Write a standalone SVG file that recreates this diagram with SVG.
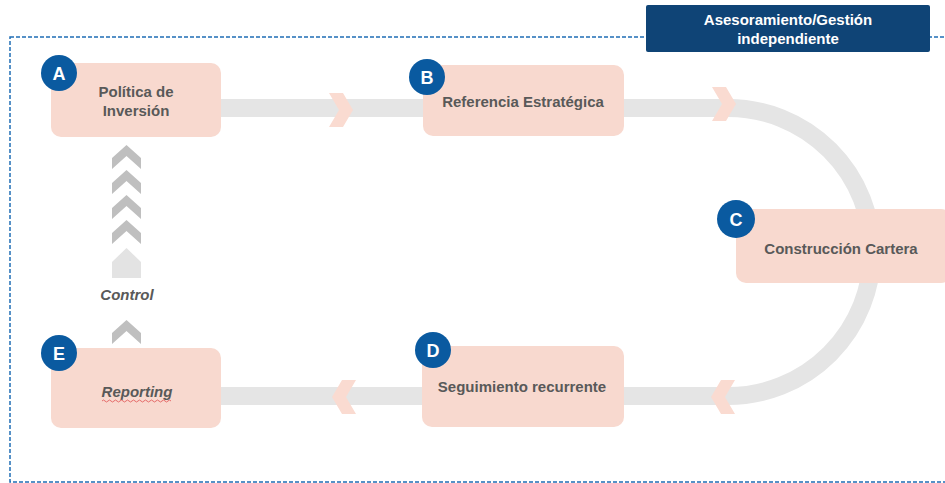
<svg xmlns="http://www.w3.org/2000/svg" width="945" height="483" viewBox="0 0 945 483">
<style>
.box{fill:#f8d9cf;}
.lbl{font-family:"Liberation Sans",Arial,sans-serif;font-weight:bold;font-size:15px;fill:#595959;text-anchor:middle;}
.badge{fill:#0a5aa0;}
.bl{font-family:"Liberation Sans",Arial,sans-serif;font-weight:bold;font-size:18px;fill:#ffffff;text-anchor:middle;}
.band{fill:none;stroke:#e5e5e5;stroke-width:18;}
.pch{fill:#fadbd1;}
.gch{fill:#bfbfbf;}
</style>
<defs>
<polygon id="rch" points="0,0 14,0 24,17 14,34 0,34 10,17"/>
<polygon id="uch" points="-14.5,13 0,0 14.5,13 14.5,24 0,11 -14.5,24"/>
</defs>
<rect width="945" height="483" fill="#ffffff"/>
<rect x="10" y="37" width="960" height="445" fill="none" stroke="#1f6db5" stroke-width="1.5" stroke-dasharray="4,2"/>
<g id="connectors">
<path class="band" d="M221,108 H728 A144,144 0 0 1 728,396 H221"/>
<use href="#rch" class="pch" x="329" y="93"/>
<use href="#rch" class="pch" x="712" y="87"/>
<use href="#rch" class="pch" transform="translate(735,380) scale(-1,1)"/>
<use href="#rch" class="pch" transform="translate(356,380) scale(-1,1)"/>
<use href="#uch" class="gch" x="126.5" y="145"/>
<use href="#uch" class="gch" x="126.5" y="170"/>
<use href="#uch" class="gch" x="126.5" y="195"/>
<use href="#uch" class="gch" x="126.5" y="220"/>
<polygon points="112,278 112,262 126.5,248 141,262 141,278" fill="#e3e3e3"/>
<text x="127" y="300" class="lbl" font-style="italic" font-size="14">Control</text>
<use href="#uch" class="gch" x="126.5" y="320"/>
</g>
<g id="title">
<rect x="646" y="5" width="284" height="47" rx="2" fill="#0f4476"/>
<text x="788" y="25" class="lbl" style="fill:#ffffff">Asesoramiento/Gestión</text>
<text x="788" y="44" class="lbl" style="fill:#ffffff">independiente</text>
</g>
<g id="nodeA">
<rect class="box" x="51" y="63" width="170" height="74" rx="10"/>
<text x="136" y="97" class="lbl">Política de</text>
<text x="136" y="116" class="lbl">Inversión</text>
<circle class="badge" cx="59" cy="73" r="18"/>
<text x="59" y="80" class="bl">A</text>
</g>
<g id="nodeB">
<rect class="box" x="423" y="65" width="201" height="71" rx="10"/>
<text x="523" y="107" class="lbl">Referencia Estratégica</text>
<circle class="badge" cx="427" cy="77" r="18"/>
<text x="427" y="84" class="bl">B</text>
</g>
<g id="nodeC">
<rect class="box" x="736" y="209" width="215" height="74" rx="10"/>
<text x="841" y="254" class="lbl">Construcción Cartera</text>
<circle class="badge" cx="736" cy="219" r="19"/>
<text x="736" y="226" class="bl">C</text>
</g>
<g id="nodeD">
<rect class="box" x="422" y="346" width="202" height="81" rx="10"/>
<text x="522" y="392" class="lbl">Seguimiento recurrente</text>
<circle class="badge" cx="433" cy="350" r="18"/>
<text x="433" y="357" class="bl">D</text>
</g>
<g id="nodeE">
<rect class="box" x="51" y="348" width="170" height="80" rx="10"/>
<text x="137" y="397" class="lbl" font-style="italic">Reporting</text>
<path d="M102,401 q1.5,-2 3,0 t3,0 t3,0 t3,0 t3,0 t3,0 t3,0 t3,0 t3,0 t3,0 t3,0 t3,0 t3,0 t3,0 t3,0 t3,0 t3,0 t3,0 t3,0 t3,0 t3,0 t3,0 t3,0" fill="none" stroke="#e05050" stroke-width="0.8"/>
<circle class="badge" cx="59" cy="353" r="18"/>
<text x="59" y="360" class="bl">E</text>
</g>
</svg>
